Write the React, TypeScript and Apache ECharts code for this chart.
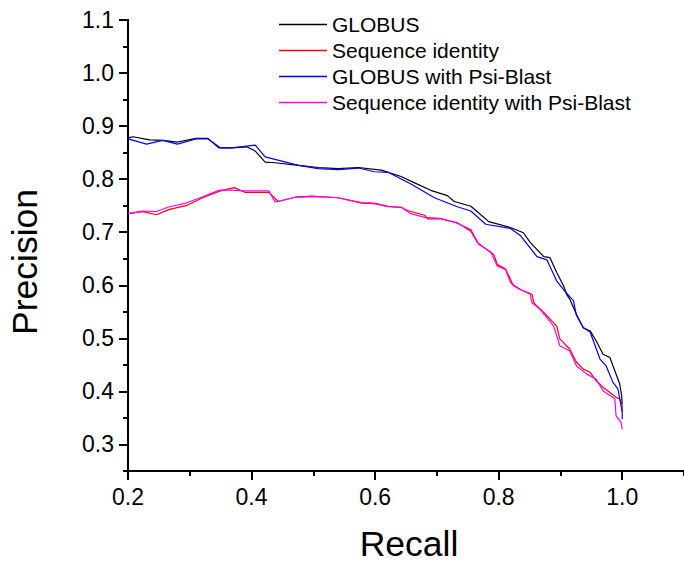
import React, { useEffect, useRef } from "react";
import * as echarts from "echarts";

const seriesNames = [
  "GLOBUS",
  "Sequence identity",
  "GLOBUS with Psi-Blast",
  "Sequence identity with Psi-Blast",
];
const seriesColors = ["#000000", "#ff0000", "#0000ff", "#ff00ff"];

const globus: [number, number][] = [
  [0.2, 0.878], [0.208, 0.88], [0.235, 0.874], [0.256, 0.873], [0.28, 0.87], [0.31, 0.877],
  [0.329, 0.877], [0.347, 0.859], [0.368, 0.859], [0.392, 0.861], [0.406, 0.853], [0.422, 0.832],
  [0.438, 0.831], [0.476, 0.826], [0.508, 0.822], [0.54, 0.82], [0.573, 0.822], [0.61, 0.817],
  [0.642, 0.805], [0.664, 0.793], [0.69, 0.779], [0.717, 0.769], [0.728, 0.758], [0.755, 0.749],
  [0.765, 0.739], [0.784, 0.72], [0.819, 0.709], [0.84, 0.699], [0.851, 0.681], [0.873, 0.654],
  [0.883, 0.652], [0.894, 0.624], [0.905, 0.599], [0.91, 0.583], [0.915, 0.574], [0.926, 0.545],
  [0.937, 0.52], [0.948, 0.514], [0.958, 0.495], [0.969, 0.47], [0.98, 0.464], [0.988, 0.439],
  [0.996, 0.414], [0.999, 0.392], [1.0, 0.376],
];

const seqIdentity: [number, number][] = [
  [0.2, 0.735], [0.224, 0.739], [0.246, 0.733], [0.267, 0.743], [0.294, 0.75], [0.321, 0.765],
  [0.347, 0.777], [0.372, 0.784], [0.39, 0.775], [0.428, 0.775], [0.443, 0.758], [0.471, 0.766],
  [0.497, 0.768], [0.54, 0.765], [0.578, 0.755], [0.599, 0.754], [0.621, 0.748], [0.642, 0.747],
  [0.653, 0.741], [0.68, 0.732], [0.685, 0.725], [0.706, 0.725], [0.733, 0.718], [0.755, 0.702],
  [0.766, 0.68], [0.787, 0.662], [0.792, 0.658], [0.798, 0.639], [0.811, 0.631], [0.824, 0.599],
  [0.835, 0.592], [0.854, 0.583], [0.857, 0.567], [0.862, 0.561], [0.873, 0.549], [0.894, 0.523],
  [0.899, 0.499], [0.915, 0.48], [0.926, 0.455], [0.937, 0.442], [0.948, 0.436], [0.958, 0.42],
  [0.969, 0.408], [0.99, 0.389], [0.996, 0.386], [1.0, 0.373], [1.0, 0.361],
];

const globusPsi: [number, number][] = [
  [0.2, 0.876], [0.23, 0.866], [0.256, 0.873], [0.28, 0.866], [0.31, 0.876], [0.329, 0.876],
  [0.35, 0.859], [0.368, 0.859], [0.406, 0.864], [0.422, 0.842], [0.476, 0.826], [0.508, 0.82],
  [0.54, 0.818], [0.573, 0.821], [0.599, 0.814], [0.621, 0.813], [0.658, 0.791], [0.696, 0.765],
  [0.733, 0.748], [0.755, 0.74], [0.779, 0.715], [0.819, 0.707], [0.835, 0.694], [0.862, 0.654],
  [0.878, 0.648], [0.894, 0.608], [0.907, 0.589], [0.921, 0.571], [0.926, 0.543], [0.937, 0.52],
  [0.948, 0.512], [0.964, 0.461], [0.974, 0.448], [0.985, 0.417], [0.993, 0.405], [0.996, 0.386],
  [1.0, 0.361], [1.0, 0.348],
];

const seqIdentityPsi: [number, number][] = [
  [0.2, 0.735], [0.224, 0.74], [0.246, 0.739], [0.267, 0.748], [0.294, 0.755], [0.321, 0.767],
  [0.347, 0.779], [0.357, 0.78], [0.372, 0.779], [0.39, 0.778], [0.428, 0.778], [0.438, 0.757],
  [0.471, 0.766], [0.508, 0.767], [0.54, 0.765], [0.578, 0.756], [0.599, 0.755], [0.621, 0.749],
  [0.642, 0.747], [0.658, 0.735], [0.68, 0.728], [0.706, 0.726], [0.733, 0.717], [0.755, 0.705],
  [0.768, 0.677], [0.787, 0.663], [0.798, 0.636], [0.811, 0.63], [0.819, 0.605], [0.835, 0.592],
  [0.851, 0.583], [0.854, 0.567], [0.867, 0.555], [0.889, 0.523], [0.899, 0.486], [0.915, 0.476],
  [0.926, 0.448], [0.942, 0.433], [0.958, 0.423], [0.969, 0.401], [0.988, 0.386], [0.99, 0.354],
  [0.998, 0.342], [1.0, 0.329],
];

const seriesData = [globus, seqIdentity, globusPsi, seqIdentityPsi];

const xMajorTicks = [0.2, 0.4, 0.6, 0.8, 1.0];
const xMinorTicks = [0.3, 0.5, 0.7, 0.9, 1.1];
const yMajorTicks = [0.3, 0.4, 0.5, 0.6, 0.7, 0.8, 0.9, 1.0, 1.1];
const yMinorTicks = [0.25, 0.35, 0.45, 0.55, 0.65, 0.75, 0.85, 0.95, 1.05];

const FONT = "'Liberation Sans', Arial, Helvetica, sans-serif";

export default function App() {
  const ref = useRef<HTMLDivElement>(null);
  useEffect(() => {
    document.body.style.margin = "0";
    if (!ref.current) return;
    const chart = echarts.init(ref.current, undefined, { renderer: "svg" });
    const axisLine = { show: true, lineStyle: { color: "#000", width: 2 } };
    const xBase = {
      type: "value" as const,
      min: 0.2,
      max: 1.1,
      position: "bottom" as const,
      splitLine: { show: false },
      axisLine,
    };
    const yBase = {
      type: "value" as const,
      min: 0.25,
      max: 1.1,
      position: "left" as const,
      splitLine: { show: false },
      axisLine,
    };
    chart.setOption({
      animation: false,
      backgroundColor: "#ffffff",
      grid: { left: 128, right: -4, top: 20, bottom: 94, containLabel: false },
      legend: {
        data: seriesNames,
        orient: "vertical",
        left: 274,
        top: 9,
        icon: "rect",
        itemWidth: 48,
        itemHeight: 1.5,
        itemGap: 5,
        textStyle: { fontSize: 21, fontFamily: FONT, color: "#000" },
      },
      xAxis: [
        {
          ...xBase,
          axisTick: { show: true, length: 9, lineStyle: { width: 2, color: "#000" }, customValues: xMajorTicks },
          axisLabel: {
            show: true,
            customValues: xMajorTicks,
            margin: 14,
            fontSize: 23,
            fontFamily: FONT,
            color: "#000",
            formatter: (v: number) => v.toFixed(1),
          },
        },
        {
          ...xBase,
          axisTick: { show: true, length: 5, lineStyle: { width: 2, color: "#000" }, customValues: xMinorTicks },
          axisLabel: { show: false },
        },
      ],
      yAxis: [
        {
          ...yBase,
          axisTick: { show: true, length: 9, lineStyle: { width: 2, color: "#000" }, customValues: yMajorTicks },
          axisLabel: {
            show: true,
            customValues: yMajorTicks,
            margin: 14,
            fontSize: 23,
            fontFamily: FONT,
            color: "#000",
            formatter: (v: number) => v.toFixed(1),
          },
        },
        {
          ...yBase,
          axisTick: { show: true, length: 5, lineStyle: { width: 2, color: "#000" }, customValues: yMinorTicks },
          axisLabel: { show: false },
        },
      ],
      series: seriesNames.map((name, i) => ({
        name,
        type: "line",
        xAxisIndex: 0,
        yAxisIndex: 0,
        data: seriesData[i],
        symbol: "none",
        showSymbol: false,
        color: seriesColors[i],
        lineStyle: { color: seriesColors[i], width: 1.2 },
        z: 2 + i,
      })),
      graphic: [
        {
          type: "text",
          x: 25,
          y: 262,
          rotation: Math.PI / 2,
          style: {
            text: "Precision",
            font: `35.5px ${FONT}`,
            lineHeight: 30,
            fill: "#000",
            textAlign: "center",
            textVerticalAlign: "middle",
          },
        },
        {
          type: "text",
          x: 409,
          y: 544,
          style: {
            text: "Recall",
            font: `35.5px ${FONT}`,
            lineHeight: 30,
            fill: "#000",
            textAlign: "center",
            textVerticalAlign: "middle",
          },
        },
      ],
    });
    return () => chart.dispose();
  }, []);
  return <div ref={ref} style={{ width: 684, height: 565 }} />;
}
